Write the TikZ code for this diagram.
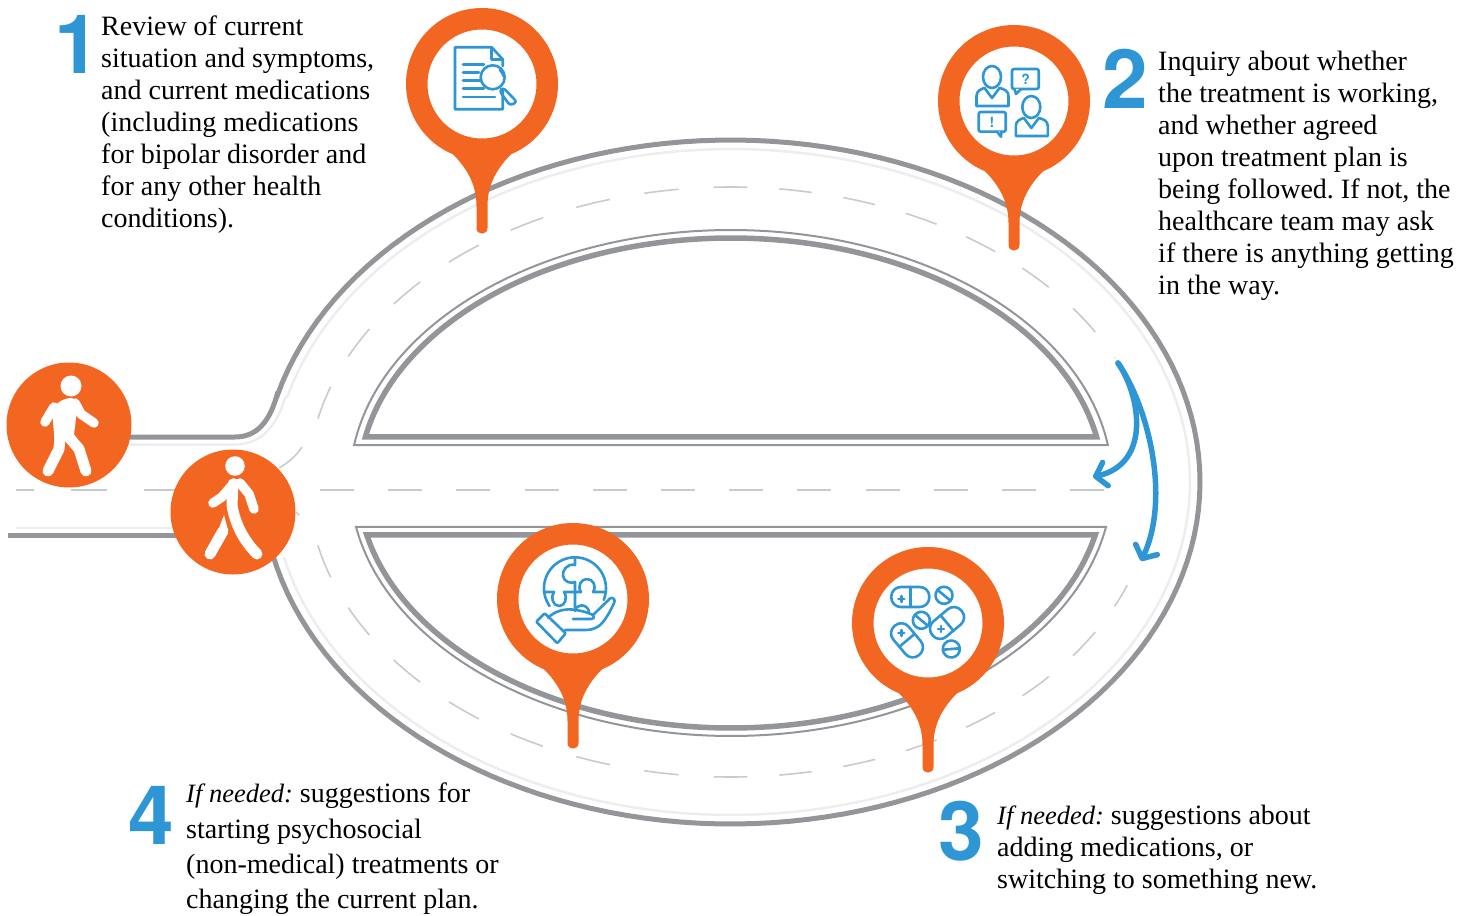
\documentclass[tikz,border=0pt]{standalone}
\usepackage{fontspec}
\setmainfont{Liberation Serif}
\newfontfamily\numfont{TeX Gyre Heros}
\usetikzlibrary{arrows.meta,positioning}
\definecolor{pinorange}{HTML}{F36621}
\definecolor{iconblue}{HTML}{2F96D5}
\definecolor{roadgrey}{HTML}{939598}
\definecolor{roadlight}{HTML}{EDEDEE}
\definecolor{dashgrey}{HTML}{C9CACC}
\tikzset{
  roadedge/.style={draw=roadgrey,line width=5pt},
  islandthin/.style={draw=roadgrey,line width=2pt,miter limit=20},
  islandthick/.style={draw=roadgrey,line width=5.5pt,miter limit=20},
  softedge/.style={draw=roadlight,line width=2.5pt},
  laneline/.style={draw=dashgrey,line width=1.6pt},
  lanewest/.style={laneline,dash pattern=on 34.5pt off 35pt,dash phase=17pt},
  laneeast/.style={laneline,dash pattern=on 32.5pt off 32.1pt,dash phase=16.2pt},
  stepnum/.style={font=\numfont\bfseries\fontsize{82}{82}\selectfont,text=iconblue,inner sep=0pt},
  steptext/.style={font=\fontsize{28}{32}\selectfont,align=left,inner sep=0pt,anchor=north west},
  walkerdisc/.style={circle,fill=pinorange,minimum size=125pt,inner sep=0pt},
  walkerline/.style={draw=white,line width=9.5pt,line cap=round,line join=round},
  pinhead/.style={circle,draw=pinorange,line width=21.5pt,fill=white,minimum size=130.5pt,inner sep=0pt},
  iconline/.style={draw=iconblue,line width=2.6pt,line join=round,line cap=round},
  looparrow/.style={draw=iconblue,line width=5.5pt,line cap=round,-{Straight Barb[length=10pt,width=24pt,round]}},
  pics/pinmark/.style={code={
    \fill[pinorange] (-42,58) .. controls (-24,74) and (-5.5,92) .. (-5.5,122) -- (-5.5,144)
      .. controls (-5.5,151.5) and (5.5,151.5) .. (5.5,144) -- (5.5,122)
      .. controls (5.5,92) and (24,74) .. (42,58) -- cycle;
    \node[pinhead] (-head) at (0,0) {};
  }},
  pics/capsule/.style={code={
    \draw[iconline,rounded corners=9.5pt] (-19,-10) rectangle (19,10);
    \draw[iconline] (0,-10) -- (0,10);
  }},
  pics/tablet/.style={code={
    \draw[iconline] (0,0) circle[radius=8.5pt];
    \draw[iconline] (-8.5,0) -- (8.5,0);
  }},
  pics/person/.style={code={
    \draw[iconline] (-22,-24) ellipse[x radius=9pt,y radius=11pt];
    \draw[iconline] (-37.5,5) -- (-37.5,-5) .. controls (-37.5,-10) and (-33,-12) .. (-29.5,-13)
      -- (-22,-3) -- (-14.5,-13) .. controls (-10,-12) and (-5.5,-10) .. (-5.5,-5) -- (-5.5,5) -- cycle;
  }}
}
\frenchspacing
\begin{document}
\begin{tikzpicture}[x=1pt,y=-1pt]
\useasboundingbox (0,0) rectangle (1466,915);

% road edges
\draw[roadedge] (120,437) -- (235,437) .. controls (258,437) and (270,420) .. (277,395)
  -- plot[domain=194.7:527.7,samples=150] ({731+469*cos(\x)},{482+342*sin(\x)});
\draw[roadedge] (8,535) -- (180,535);
\draw[softedge] (120,444.5) -- (235,444.5) .. controls (262,444.5) and (277,425) .. (285,398)
  -- plot[domain=195:527,samples=150] ({731+459*cos(\x)},{482+333*sin(\x)});
\draw[softedge] (16,528) -- (180,528);

% lane markings
\draw[lanewest] plot[domain=270:192,samples=100] ({731+423*cos(\x)},{482+295*sin(\x)});
\draw[laneeast] plot[domain=270:335.2,samples=100] ({731+423*cos(\x)},{482+295*sin(\x)});
\draw[lanewest] plot[domain=90:169.2,samples=100] ({731+423*cos(\x)},{482+295*sin(\x)});
\draw[laneeast] plot[domain=90:20.5,samples=100] ({731+423*cos(\x)},{482+295*sin(\x)});
\draw[laneline,dash pattern=on 34pt off 34.2pt] (320,490) -- (1104,490);
\draw[laneline,dash pattern=on 18pt off 37pt on 36pt off 37pt on 33pt off 99pt] (16,490) -- (177,490);
\draw[laneline] (279,468) .. controls (288,463) and (296,456) .. (302,447);
\draw[laneline] (296,512) -- (299,515);

% islands
\draw[islandthin] plot[domain=188.44:351.56,samples=120] ({731+381*cos(\x)},{482+252*sin(\x)}) -- cycle;
\draw[islandthick] plot[domain=190.63:349.37,samples=120] ({731+372*cos(\x)},{482+244*sin(\x)}) -- cycle;
\draw[islandthin] plot[domain=10.2:169.8,samples=120] ({731+381*cos(\x)},{482+254*sin(\x)}) -- cycle;
\draw[islandthick] plot[domain=12.44:167.56,samples=120] ({731+373*cos(\x)},{482+246*sin(\x)}) -- cycle;

% loop arrows
\coordinate (turn) at (1118,363);
\draw[looparrow] (turn) .. controls (1140,395) and (1152,463) .. (1093,477);
\draw[looparrow] (turn) .. controls (1150,410) and (1170,500) .. (1141,561);

% walkers
\node[walkerdisc] (walker1) at (69,425) {};
\fill[white] (71,386) circle[radius=10.5pt];
\fill[white] (52,410) .. controls (56,403) and (63,398) .. (72,398) -- (78,402) -- (74,435) -- (67,440) -- (55,446) -- cycle;
\draw[walkerline] (45,422) -- (54,407);
\draw[walkerline] (75,403) -- (81,414) -- (94,423);
\draw[walkerline,line width=11pt] (60,438) -- (59,449) -- (48,471);
\draw[walkerline,line width=11pt] (68,436) -- (79,449) -- (86,471);

\node[walkerdisc] (walker2) at (233,512) {};
\fill[white] (235,466) circle[radius=9.8pt];
\draw[walkerline] (213,503) -- (222,497) -- (234,483);
\draw[walkerline] (240,483) -- (249,494) -- (254,509);
\draw[walkerline,line width=11pt] (233,484) -- (232,505) .. controls (235,525) and (245,542) .. (257,554);
\draw[walkerline,line width=11pt] (223,531) -- (210,554);
\fill[white] (224,515) -- (228,530) -- (217,533) -- cycle;

% pins
\pic (pin1) at (482,84) {pinmark};
\pic (pin2) at (1014,101) {pinmark};
\pic (pin3) at (573,599) {pinmark};
\pic (pin4) at (928,623) {pinmark};

% document and lens
\begin{scope}[shift={(482,83)}]
\draw[iconline] (20.7,-17) -- (20.7,-23.7) -- (9.7,-35.7) -- (-27,-35.7) -- (-27,26.3) -- (20.7,26.3) -- (20.7,7);
\draw[iconline] (9.7,-35.7) -- (9.7,-23.7) -- (20.7,-23.7);
\draw[iconline] (-19,-18.7) -- (2,-18.7) (-19,-10.3) -- (-3,-10.3) (-19,-2.3) -- (-2,-2.3)
  (-19,5.7) -- (2,5.7) (-19,14) -- (13,14);
\draw[iconline] (10.7,-5.7) circle[radius=12pt];
\draw[iconline] (18,-13) .. controls (20,-11) and (21,-9) .. (21.5,-7);
\draw[iconline,rounded corners=3pt] (21,4.5) -- (17.5,8) -- (28,22.5) -- (35,19) -- cycle;
\end{scope}

% team talking
\begin{scope}[shift={(1014,101)}]
\pic at (0,0) {person};
\pic at (39.3,30) {person};
\draw[iconline,rounded corners=2pt] (-2,-32) rectangle (24.7,-12);
\draw[iconline,fill=white] (0.5,-12) -- (2,-7) -- (7,-12);
\node[text=iconblue,font=\numfont\bfseries\fontsize{14}{14}\selectfont,inner sep=0pt] (ask) at (11.7,-22) {?};
\draw[iconline,rounded corners=2pt] (-35.3,11) rectangle (-8.3,30.7);
\draw[iconline,fill=white] (-17,30.7) -- (-13,35.7) -- (-12.5,30.7);
\node[text=iconblue,font=\numfont\bfseries\fontsize{14}{14}\selectfont,inner sep=0pt] (tell) at (-22,21) {!};
\end{scope}

% puzzle on a hand
\begin{scope}[shift={(573,599)}]
\draw[iconline] (-23.4,7.1) arc[start angle=215,end angle=-22,radius=31pt];
\draw[iconline] (2,-41.5) -- (2,-34) .. controls (-6,-36) and (-11,-28) .. (-10,-23)
  .. controls (-9,-17) and (-2,-15) .. (2,-17) -- (2,-7) -- (8,-7)
  .. controls (4,-13) and (8,-20) .. (14,-20) .. controls (20,-20) and (24,-13) .. (20,-7) -- (33,-7);
\draw[iconline] (-29,-7) -- (-19,-7) .. controls (-23,-2) and (-20,7) .. (-14,7)
  .. controls (-8,7) and (-5,-1) .. (-9,-7) -- (2,-7) -- (2,9);
\draw[iconline] (2,12) .. controls (3,5) and (13,4) .. (16,12);
\draw[iconline,rounded corners=1pt] (-36.7,22.7) -- (-28.3,14.3) -- (-7.3,34.3) -- (-15.7,44.3) -- cycle;
\draw[iconline] (-25,18.7) .. controls (-18,12) and (-8,9) .. (3,11) .. controls (10,12) and (16,14) .. (20,16)
  .. controls (22,19) and (20,20) .. (18,20) -- (0,20);
\draw[iconline] (20,16) -- (37,-0.5) .. controls (40,-2.5) and (43,1) .. (41,4)
  .. controls (37,13) and (32,22) .. (26,27) .. controls (20,31) and (15,31) .. (10,31) -- (-8,31);
\end{scope}

% pills
\begin{scope}[shift={(928,623)}]
\pic[shift={(-17.7,-26)}] {capsule};
\pic[shift={(19,0)},rotate=40] {capsule};
\pic[shift={(-21,17.3)},rotate=-50] {capsule};
\pic[shift={(16,-27.7)},rotate=-40] {tablet};
\pic[shift={(-6.7,-2.7)},rotate=-40] {tablet};
\pic[shift={(23.3,26)},rotate=5] {tablet};
\draw[iconline] (-29.7,-24) -- (-23.7,-24) (-26.7,-27) -- (-26.7,-21);
\draw[iconline] (10,6) -- (16,6) (13,3) -- (13,9);
\draw[iconline] (-29.7,10) -- (-23.7,10) (-26.7,7) -- (-26.7,13);
\end{scope}

% step numbers and texts
\node[stepnum] (num1) at (77,44) {1};
\node[stepnum] (num2) at (1125,79) {2};
\node[stepnum] (num3) at (961,831) {3};
\node[stepnum] (num4) at (151,815) {4};

\node[steptext] (step1) at (101,16) {Review of current\\situation and symptoms,\\and current medications\\(including medications\\for bipolar disorder and\\for any other health\\conditions).};
\node[steptext] (step2) at (1158,51) {Inquiry about whether\\the treatment is working,\\and whether agreed\\upon treatment plan is\\being followed. If not, the\\healthcare team may ask\\if there is anything getting\\in the way.};
\node[steptext] (step3) at (997,805) {{\fontsize{26.5}{32}\selectfont\textit{If needed:}} suggestions about\\adding medications, or\\switching to something new.};
\node[steptext,font=\fontsize{28}{35.3}\selectfont] (step4) at (186,783) {{\fontsize{26.5}{35.3}\selectfont\textit{If needed:}} suggestions for\\starting psychosocial\\(non-medical) treatments or\\changing the current plan.};
\end{tikzpicture}
\end{document}
